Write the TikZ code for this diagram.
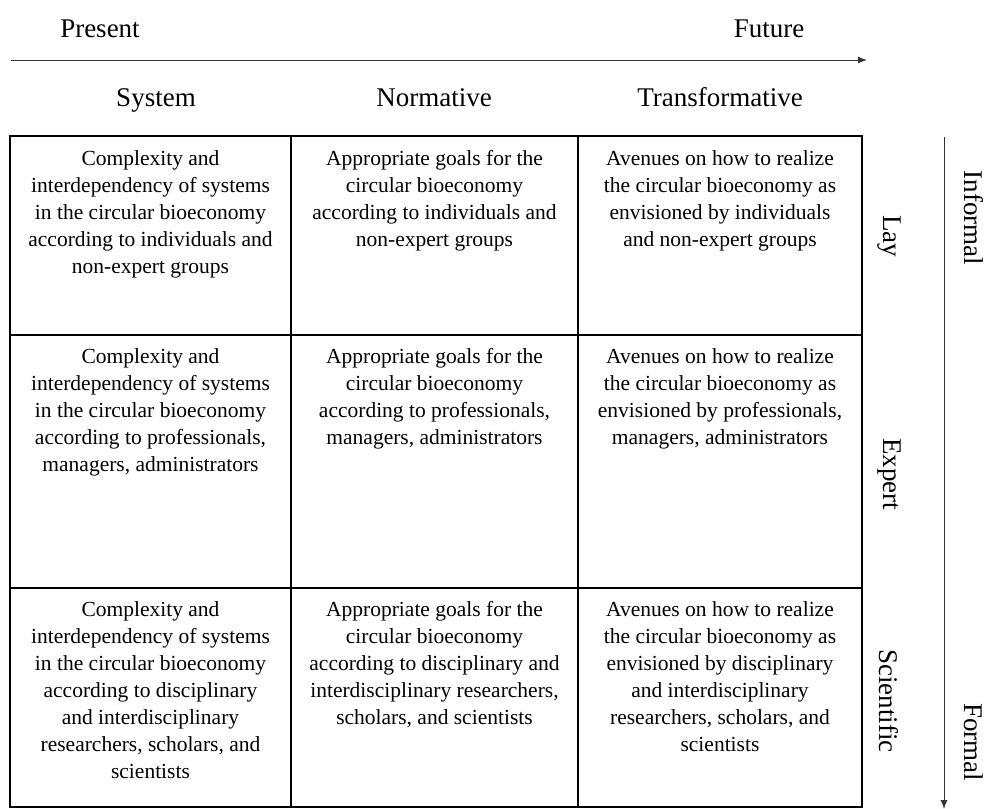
\documentclass[tikz,border=0pt]{standalone}
\usepackage{fontspec}
\setmainfont{Liberation Serif}
\usetikzlibrary{arrows.meta}
\tikzset{
  cellbox/.style={draw=black, line width=1.4pt, inner sep=0pt, fill=none},
  celltext/.style={align=center, inner sep=0pt, anchor=north, text=black,
    font=\fontsize{21.5}{27}\selectfont},
  headtext/.style={inner sep=0pt, anchor=base, text=black,
    font=\fontsize{27}{32}\selectfont},
  sidetext/.style={inner sep=0pt, rotate=-90, text=black,
    font=\fontsize{27}{32}\selectfont},
  axisarrow/.style={draw=black!80, line width=1pt, -{Latex[length=9pt,width=7pt]}}
}
\begin{document}
\begin{tikzpicture}[x=1pt,y=-1pt]
\useasboundingbox (0,0) rectangle (986,809);
% axes
\coordinate (hstart) at (11,60);
\coordinate (hend) at (867,60);
\draw[axisarrow] (hstart) -- (hend);
\coordinate (vstart) at (944,137);
\coordinate (vend) at (944,809);
\draw[axisarrow] (vstart) -- (vend);
% axis labels
\node[headtext] (present) at (100,37) {Present};
\node[headtext] (future) at (769,37) {Future};
\node[headtext] (system) at (156,106) {System};
\node[headtext] (normative) at (434,106) {Normative};
\node[headtext] (transformative) at (720,106) {Transformative};
\node[sidetext] (informal) at (974,218) {Informal};
\node[sidetext] (formal) at (974,742) {Formal};
\node[sidetext] (lay) at (889,236) {Lay};
\node[sidetext] (expert) at (889,474) {Expert};
\node[sidetext] (scientific) at (889,701) {Scientific};
% cells
\node[cellbox, minimum width=281pt, minimum height=199pt] (c11) at (150.5,235.5) {};
\node[cellbox, minimum width=287pt, minimum height=199pt] (c12) at (434.5,235.5) {};
\node[cellbox, minimum width=284pt, minimum height=199pt] (c13) at (720,235.5) {};
\node[cellbox, minimum width=281pt, minimum height=253pt] (c21) at (150.5,461.5) {};
\node[cellbox, minimum width=287pt, minimum height=253pt] (c22) at (434.5,461.5) {};
\node[cellbox, minimum width=284pt, minimum height=253pt] (c23) at (720,461.5) {};
\node[cellbox, minimum width=281pt, minimum height=219pt] (c31) at (150.5,697.5) {};
\node[cellbox, minimum width=287pt, minimum height=219pt] (c32) at (434.5,697.5) {};
\node[cellbox, minimum width=284pt, minimum height=219pt] (c33) at (720,697.5) {};
% texts
\node[celltext] (t11) at ([yshift=-15pt]c11.north) {Complexity and\\interdependency of systems\\in the circular bioeconomy\\according to individuals and\\non-expert groups};
\node[celltext] (t12) at ([yshift=-15pt]c12.north) {Appropriate goals for the\\circular bioeconomy\\according to individuals and\\non-expert groups};
\node[celltext] (t13) at ([yshift=-15pt]c13.north) {Avenues on how to realize\\the circular bioeconomy as\\envisioned by individuals\\and non-expert groups};
\node[celltext] (t21) at ([yshift=-14pt]c21.north) {Complexity and\\interdependency of systems\\in the circular bioeconomy\\according to professionals,\\managers, administrators};
\node[celltext] (t22) at ([yshift=-14pt]c22.north) {Appropriate goals for the\\circular bioeconomy\\according to professionals,\\managers, administrators};
\node[celltext] (t23) at ([yshift=-14pt]c23.north) {Avenues on how to realize\\the circular bioeconomy as\\envisioned by professionals,\\managers, administrators};
\node[celltext] (t31) at ([yshift=-14pt]c31.north) {Complexity and\\interdependency of systems\\in the circular bioeconomy\\according to disciplinary\\and interdisciplinary\\researchers, scholars, and\\scientists};
\node[celltext] (t32) at ([yshift=-14pt]c32.north) {Appropriate goals for the\\circular bioeconomy\\according to disciplinary and\\interdisciplinary researchers,\\scholars, and scientists};
\node[celltext] (t33) at ([yshift=-14pt]c33.north) {Avenues on how to realize\\the circular bioeconomy as\\envisioned by disciplinary\\and interdisciplinary\\researchers, scholars, and\\scientists};
\end{tikzpicture}
\end{document}
